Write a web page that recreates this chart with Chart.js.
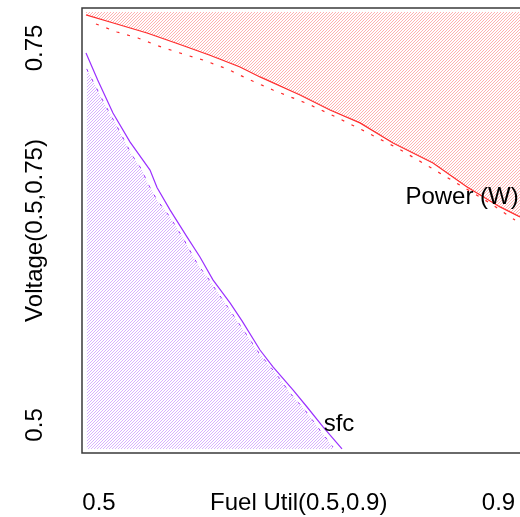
<!DOCTYPE html>
<html>
<head>
<meta charset="utf-8">
<script src="https://cdn.jsdelivr.net/npm/chart.js@4/dist/chart.umd.min.js"></script>
<style>
  body { margin: 0; background: #fff; }
  #wrap { width: 520px; height: 517px; }
</style>
</head>
<body>
<div id="wrap"><canvas id="contourChart" width="520" height="517"></canvas></div>
<script>
// axis ticks
var xTicks = [0.5, 0.7, 0.9];
var xTickLabels = ['0.5', 'Fuel Util(0.5,0.9)', '0.9'];
var yTicks = [0.5, 0.75];
var yTickLabels = ['0.5', '0.75'];

// sfc contour (solid) and its dot-dash companion
var sfcX = [0.4870, 0.4987, 0.5140, 0.5310, 0.5511, 0.5581, 0.5711, 0.5881, 0.6011, 0.6141, 0.6312, 0.6432, 0.6612, 0.6742, 0.6942, 0.7083, 0.7243, 0.7433];
var sfcY = [0.7467, 0.7288, 0.7069, 0.6877, 0.6690, 0.6575, 0.6426, 0.6247, 0.6114, 0.5962, 0.5809, 0.5690, 0.5497, 0.5385, 0.5232, 0.5119, 0.4987, 0.4841];
var sfcDashX = [0.4877, 0.4970, 0.5030, 0.5100, 0.5200, 0.5330, 0.5431, 0.5481, 0.5581, 0.5711, 0.5841, 0.5991, 0.6091, 0.6171, 0.6282, 0.6602, 0.6782, 0.6912, 0.7062, 0.7233, 0.7343];
var sfcDashY = [0.7361, 0.7241, 0.7162, 0.7076, 0.6956, 0.6790, 0.6691, 0.6611, 0.6492, 0.6379, 0.6240, 0.6061, 0.5975, 0.5895, 0.5789, 0.5477, 0.5332, 0.5212, 0.5099, 0.4947, 0.4854];

// power contour (solid) and its dotted companion
var powerX = [0.4870, 0.5110, 0.5481, 0.5811, 0.6111, 0.6412, 0.6612, 0.7013, 0.7313, 0.7613, 0.7944, 0.8344, 0.8685, 0.9015, 0.9215];
var powerY = [0.7719, 0.7672, 0.7599, 0.7523, 0.7452, 0.7374, 0.7308, 0.7188, 0.7089, 0.7003, 0.6870, 0.6737, 0.6578, 0.6446, 0.6379];
var powerDotX = [0.4970, 0.5180, 0.5390, 0.5621, 0.5841, 0.6041, 0.6282, 0.6492, 0.6742, 0.7093, 0.7373, 0.7653, 0.7984, 0.8244, 0.8494, 0.8895, 0.9165];
var powerDotY = [0.7659, 0.7606, 0.7566, 0.7507, 0.7460, 0.7420, 0.7361, 0.7294, 0.7221, 0.7129, 0.7042, 0.6950, 0.6837, 0.6737, 0.6638, 0.6479, 0.6359];

// contour labels
var contourLabels = [
    { text: 'Power (W)', x: 0.8635, y: 0.6512 },
    { text: 'sfc', x: 0.7403, y: 0.5007 }
];

var FONT = "'Liberation Sans', Arial, sans-serif";

function pts(xs, ys) {
    return xs.map(function (x, i) { return { x: x, y: ys[i] }; });
}

function hatch(color) {
    var c = document.createElement('canvas');
    c.width = 3;
    c.height = 3;
    var g = c.getContext('2d');
    g.fillStyle = color;
    for (var i = 0; i < 3; i++) {
        g.fillRect(i, 2 - i, 1, 1);
    }
    return g.createPattern(c, 'repeat');
}

var extras = {
    id: 'extras',
    afterDraw: function (chart) {
        var ctx = chart.ctx;
        var a = chart.chartArea;
        var xs = chart.scales.x;
        var ys = chart.scales.y;
        ctx.save();
        // frame (left, top, bottom)
        ctx.strokeStyle = '#3a3a3a';
        ctx.lineWidth = 1.5;
        ctx.beginPath();
        ctx.moveTo(chart.width, a.top);
        ctx.lineTo(a.left, a.top);
        ctx.lineTo(a.left, a.bottom);
        ctx.lineTo(chart.width, a.bottom);
        ctx.stroke();

        ctx.fillStyle = '#000';
        ctx.font = '24px ' + FONT;
        ctx.textAlign = 'center';
        ctx.textBaseline = 'middle';
        // rotated y tick labels
        yTicks.forEach(function (v, i) {
            ctx.save();
            ctx.translate(35, ys.getPixelForValue(v));
            ctx.rotate(-Math.PI / 2);
            ctx.fillText(yTickLabels[i], 0, 0);
            ctx.restore();
        });
        // contour labels
        contourLabels.forEach(function (l) {
            ctx.fillText(l.text, xs.getPixelForValue(l.x), ys.getPixelForValue(l.y));
        });
        ctx.restore();
    }
};

var ctx = document.getElementById('contourChart').getContext('2d');
var chart = new Chart(ctx, {
    type: 'scatter',
    data: {
        datasets: [
            {
                label: 'sfc region',
                data: pts(sfcDashX, sfcDashY),
                showLine: true,
                borderColor: '#9b30ff',
                borderWidth: 1,
                borderDash: [3, 8],
                backgroundColor: hatch('rgba(155, 48, 255, 0.38)'),
                fill: { value: 0.4841 },
                pointRadius: 0
            },
            {
                label: 'sfc',
                data: pts(sfcX, sfcY),
                showLine: true,
                borderColor: '#9b30ff',
                borderWidth: 1.2,
                fill: false,
                pointRadius: 0
            },
            {
                label: 'Power (W)',
                data: pts(powerX, powerY),
                showLine: true,
                borderColor: '#ff2a2a',
                borderWidth: 1.2,
                backgroundColor: hatch('rgba(255, 40, 40, 0.36)'),
                fill: { value: 0.7739 },
                pointRadius: 0
            },
            {
                label: 'Power dotted',
                data: pts(powerDotX, powerDotY),
                showLine: true,
                borderColor: '#ff2a2a',
                borderWidth: 1.2,
                borderDash: [3, 8],
                fill: false,
                pointRadius: 0
            }
        ]
    },
    options: {
        responsive: false,
        animation: false,
        layout: {
            padding: { top: 8, right: 0, bottom: 0, left: 0 }
        },
        plugins: {
            legend: { display: false },
            tooltip: { enabled: false }
        },
        scales: {
            x: {
                type: 'linear',
                min: 0.483,
                max: 0.9215,
                grid: { display: false, drawTicks: false },
                border: { display: false },
                afterFit: function (scale) {
                    scale.height = 64;
                    scale.paddingLeft = 0;
                    scale.paddingRight = 0;
                },
                afterBuildTicks: function (scale) {
                    scale.ticks = xTicks.map(function (v) { return { value: v }; });
                },
                ticks: {
                    autoSkip: false,
                    maxRotation: 0,
                    minRotation: 0,
                    padding: 36,
                    color: '#000',
                    font: { family: FONT, size: 24 },
                    callback: function (value) {
                        var i = xTicks.indexOf(value);
                        return i >= 0 ? xTickLabels[i] : '';
                    }
                }
            },
            y: {
                type: 'linear',
                min: 0.4814,
                max: 0.7765,
                grid: { display: false, drawTicks: false },
                border: { display: false },
                ticks: { display: false },
                afterFit: function (scale) {
                    scale.width = 82;
                    scale.paddingTop = 0;
                    scale.paddingBottom = 0;
                },
                title: {
                    display: true,
                    text: 'Voltage(0.5,0.75)',
                    color: '#000',
                    font: { family: FONT, size: 24 },
                    padding: { top: 21, bottom: 0 }
                }
            }
        }
    },
    plugins: [extras]
});
</script>
</body>
</html>
